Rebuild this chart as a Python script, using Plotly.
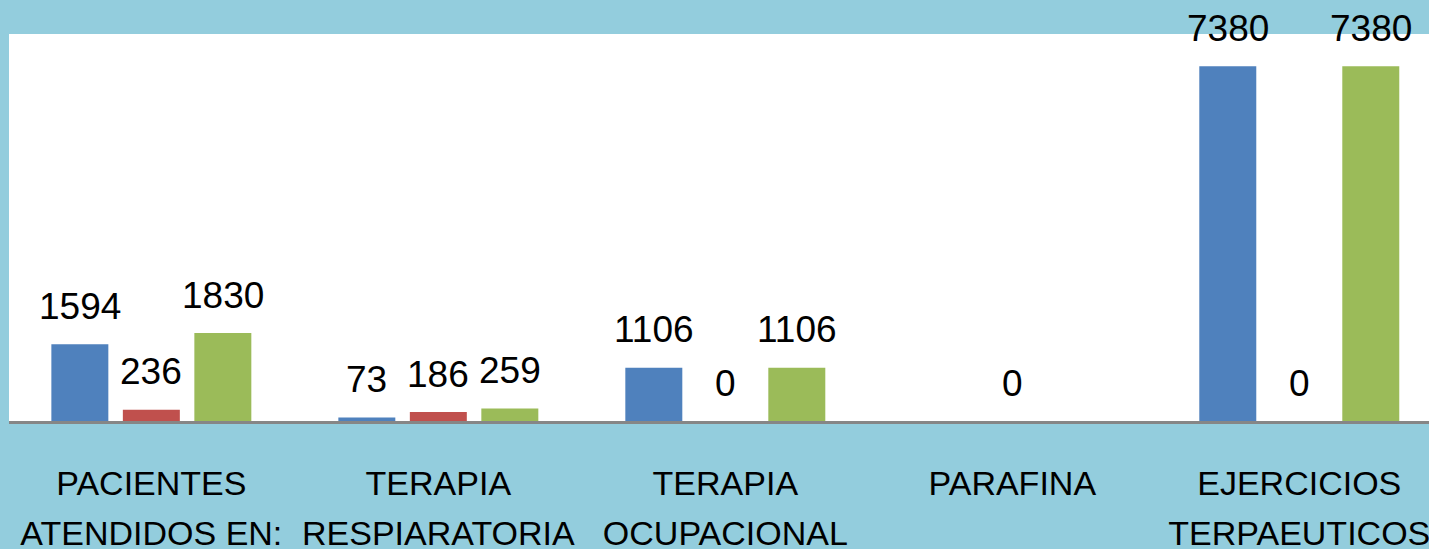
import plotly.graph_objects as go

categories = ["PACIENTES ATENDIDOS EN:", "TERAPIA RESPIARATORIA", "TERAPIA OCUPACIONAL",
              "PARAFINA", "EJERCICIOS TERPAEUTICOS"]
label_line1 = ["PACIENTES", "TERAPIA", "TERAPIA", "PARAFINA", "EJERCICIOS"]
label_line2 = ["ATENDIDOS EN:", "RESPIARATORIA", "OCUPACIONAL", "", "TERPAEUTICOS"]

series_blue = [1594, 73, 1106, None, 7380]
series_red = [236, 186, 0, 0, 0]
series_green = [1830, 259, 1106, None, 7380]

series = [series_blue, series_red, series_green]
colors = ["#4F81BD", "#C0504D", "#9BBB59"]

W, H = 1429, 549
ML, MR, MT, MB = 9, 0, 34, 128
XR = [-0.496, 4.452]
YR = [0, 8050]
BARGAP = 0.2526
BARGROUPGAP = 0.203
FONT = "Liberation Sans"

fig = go.Figure()
for vals, col in zip(series, colors):
    fig.add_trace(go.Bar(x=categories, y=vals, marker=dict(color=col, line=dict(width=0)),
                         hoverinfo="skip"))

# carrier trace so the second-line label axis is drawn (no visible marks)
fig.add_trace(go.Scatter(x=list(range(len(categories))), y=[None] * len(categories),
                         xaxis="x2", mode="markers", showlegend=False, hoverinfo="skip"))

# data labels
plot_w = W - ML - MR
cat_px = plot_w / (XR[1] - XR[0])
step = cat_px * (1 - BARGAP) / len(series)
annotations = []
for si, vals in enumerate(series):
    for cat, v in zip(categories, vals):
        if v is None:
            continue
        annotations.append(dict(x=cat, y=v, xref="x", yref="y",
                                xshift=(si - (len(series) - 1) / 2) * step, yshift=38,
                                text=str(v), showarrow=False, yanchor="middle",
                                font=dict(family=FONT, size=37, color="black")))

fig.update_layout(
    width=W, height=H,
    margin=dict(l=ML, r=MR, t=MT, b=MB),
    paper_bgcolor="#93CDDD",
    plot_bgcolor="white",
    barmode="group", bargap=BARGAP, bargroupgap=BARGROUPGAP,
    showlegend=False,
    annotations=annotations,
    xaxis=dict(type="category", range=XR, showline=True, linecolor="#868686", linewidth=2.5,
               showgrid=False, zeroline=False, ticks="",
               tickmode="array", tickvals=categories, ticktext=label_line1,
               tickfont=dict(family=FONT, size=34, color="black"),
               ticklabelstandoff=30, ticklabeloverflow="allow",
               automargin=False, fixedrange=True),
    xaxis2=dict(type="linear", overlaying="x", anchor="y", side="bottom", range=XR,
                showline=False, showgrid=False, zeroline=False, ticks="",
                tickmode="array", tickvals=list(range(len(categories))), ticktext=label_line2,
                tickfont=dict(family=FONT, size=34, color="black"),
                ticklabelstandoff=89, ticklabeloverflow="allow",
                automargin=False, fixedrange=True),
    yaxis=dict(range=YR, visible=False, showgrid=False, zeroline=False, fixedrange=True),
)

fig.write_html("out.html", config={"displayModeBar": False},
               post_script="document.body.style.margin='0';document.body.style.overflow='hidden';")
